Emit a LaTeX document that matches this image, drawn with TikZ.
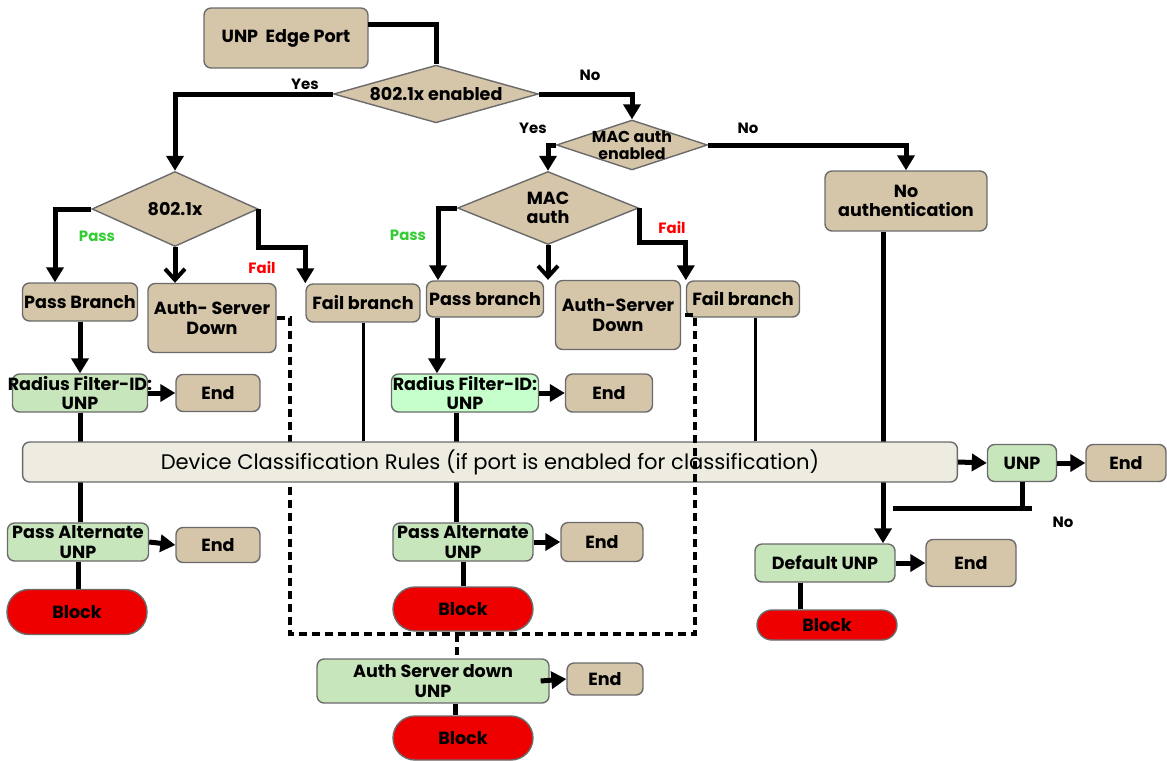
\documentclass[tikz,border=0pt]{standalone}
\usepackage{fontspec}
\setmainfont{Poppins}
\usepackage{xcolor}
\usepackage{tikz}
\usetikzlibrary{positioning, arrows.meta, shapes.geometric, backgrounds}
\definecolor{boxtan}{HTML}{D5C5A9}
\definecolor{boxedge}{HTML}{6B6B6B}
\definecolor{unpgreen}{HTML}{C8E6BC}
\definecolor{unpmint}{HTML}{C6FFCC}
\definecolor{rulebar}{HTML}{EEEBE0}
\definecolor{blockred}{HTML}{EE0000}
\definecolor{passgreen}{HTML}{33CC33}
\definecolor{failred}{HTML}{FF0000}

\tikzset{
  boxfont/.style={font=\fontsize{10}{11}\selectfont\bfseries},
  tanbox/.style={boxfont, fill=boxtan, draw=boxedge, line width=0.8pt, rounded corners=4pt, inner sep=1pt, align=center},
  greenbox/.style={tanbox, fill=unpgreen},
  mintbox/.style={tanbox, fill=unpmint},
  blockbox/.style={boxfont, fill=blockred, draw=boxedge, line width=0.8pt, rounded corners=0.44cm, inner sep=1pt},
  decision/.style={boxfont, diamond, aspect=3, fill=boxtan, draw=boxedge, line width=0.8pt, inner sep=0pt, align=center},
  flow/.style={line width=0.1cm, -{Triangle[length=0.3cm, width=0.34cm]}},
  openflow/.style={line width=0.1cm, -{Straight Barb[length=0.22cm, width=0.4cm, line width=0.08cm]}},
  plainflow/.style={line width=0.1cm},
  thinflow/.style={line width=0.06cm},
  dashflow/.style={line width=0.08cm, dash pattern=on 0.16cm off 0.1cm},
  answer/.style={font=\fontsize{8.5}{9}\selectfont\bfseries, inner sep=0pt}
}

\begin{document}
\begin{tikzpicture}[x=0.02cm, y=-0.02cm]
  \useasboundingbox (0,0) rectangle (1167,761);

  % start and first decisions
  \node[tanbox, minimum width=3.28cm, minimum height=1.2cm] (edge) at (286,38) {UNP\ \ Edge Port};
  \node[decision, minimum width=4.1cm, minimum height=1.04cm] (dotena) at (436,94) {802.1x enabled};
  \node[decision, minimum width=3.02cm, minimum height=1.0cm, font=\fontsize{9}{10}\selectfont\bfseries] (macena) at (632,145) {\makebox[0pt]{MAC auth}\\\makebox[0pt]{enabled}};
  \node[tanbox, minimum width=3.24cm, minimum height=1.2cm] (noauth) at (906,201) {No\\authentication};
  \node[decision, minimum width=3.32cm, minimum height=1.5cm] (dotx) at (175,209) {802.1x};
  \node[decision, minimum width=3.62cm, minimum height=1.46cm] (macauth) at (548,208) {MAC\\auth};

  % branches
  \node[tanbox, minimum width=2.3cm, minimum height=0.76cm] (passL) at (80,302) {Pass Branch};
  \node[tanbox, minimum width=2.56cm, minimum height=1.38cm] (asdL) at (212,318) {Auth- Server\\Down};
  \node[tanbox, minimum width=2.28cm, minimum height=0.76cm] (failL) at (363,303) {Fail branch};
  \node[tanbox, minimum width=2.34cm, minimum height=0.72cm] (passM) at (485,299) {Pass branch};
  \node[tanbox, minimum width=2.5cm, minimum height=1.38cm] (asdM) at (618,315) {Auth-Server\\Down};
  \node[tanbox, minimum width=2.26cm, minimum height=0.72cm] (failM) at (743,299) {Fail branch};

  % radius results
  \node[greenbox, minimum width=2.7cm, minimum height=0.76cm] (radL) at (80,393) {\makebox[0pt]{Radius Filter-ID:}\\UNP};
  \node[tanbox, minimum width=1.68cm, minimum height=0.74cm] (endA) at (218,393) {End};
  \node[mintbox, minimum width=2.94cm, minimum height=0.76cm] (radM) at (465,393) {\makebox[0pt]{Radius Filter-ID:}\\UNP};
  \node[tanbox, minimum width=1.74cm, minimum height=0.76cm] (endB) at (609,393) {End};

  % classification
  \node[tanbox, fill=rulebar, font=\fontsize{12}{14}\selectfont, minimum width=18.7cm, minimum height=0.8cm] (rules) at (490,462) {Device Classification Rules (if port is enabled for classification)};
  \node[greenbox, minimum width=1.38cm, minimum height=0.74cm] (unpR) at (1022,463) {UNP};
  \node[tanbox, minimum width=1.6cm, minimum height=0.74cm] (endR) at (1126,463) {End};

  % alternate, default and blocks
  \node[greenbox, minimum width=2.82cm, minimum height=0.76cm] (altL) at (78,542) {\makebox[0pt]{Pass Alternate}\\UNP};
  \node[tanbox, minimum width=1.68cm, minimum height=0.7cm] (endC) at (218,545) {End};
  \node[blockbox, minimum width=2.8cm, minimum height=0.9cm] (blockL) at (77,612) {Block};
  \node[greenbox, minimum width=2.8cm, minimum height=0.76cm] (altM) at (463,542) {\makebox[0pt]{Pass Alternate}\\UNP};
  \node[tanbox, minimum width=1.64cm, minimum height=0.78cm] (endD) at (602,542) {End};
  \node[blockbox, minimum width=2.8cm, minimum height=0.88cm] (blockM) at (463,609) {Block};
  \node[greenbox, minimum width=2.8cm, minimum height=0.76cm] (defU) at (825,563) {Default UNP};
  \node[tanbox, minimum width=1.8cm, minimum height=0.94cm] (endE) at (971,563) {End};
  \node[blockbox, minimum width=2.8cm, minimum height=0.6cm, rounded corners=0.3cm] (blockR) at (827,625) {Block};
  \node[greenbox, minimum width=4.64cm, minimum height=0.88cm] (asdU) at (433,681) {Auth Server down\\UNP};
  \node[tanbox, minimum width=1.52cm, minimum height=0.64cm] (endF) at (605,679) {End};
  \node[blockbox, minimum width=2.8cm, minimum height=0.88cm] (blockB) at (463,738) {Block};

  % answers
  \node[answer] (yesA) at (305,84) {Yes};
  \node[answer] (noA) at (590,75) {No};
  \node[answer] (yesB) at (533,128) {Yes};
  \node[answer] (noB) at (748,128) {No};
  \node[answer, text=passgreen] (passA) at (97,236) {Pass};
  \node[answer, text=failred] (failA) at (262,268) {Fail};
  \node[answer, text=passgreen] (passB) at (408,235) {Pass};
  \node[answer, text=failred] (failB) at (672,228) {Fail};
  \node[answer] (noC) at (1063,522) {No};

  % helper points
  \coordinate (edgeout) at (368,24);
  \coordinate (passLin) at ([xshift=-0.5cm]passL.north);
  \coordinate (passMin) at ([xshift=-0.94cm]passM.north);
  \coordinate (passMout) at ([xshift=-0.96cm]passM.south);
  \coordinate (radMout) at ([xshift=-0.18cm]radM.south);
  \coordinate (failMout) at ([xshift=0.24cm]failM.south);
  \coordinate (noauthout) at ([xshift=-0.46cm]noauth.south);
  \coordinate (defUout) at ([xshift=-0.5cm]defU.south);
  \coordinate (asdUout) at ([xshift=-0.18cm]asdU.east);
  \coordinate (blockBin) at ([xshift=-0.16cm]blockB.north);
  \coordinate (unpRend) at (1022,508);
  \coordinate (noright) at (1032,508);
  \coordinate (noleft) at (893,508);
  \coordinate (dashL) at (290,634);
  \coordinate (dashM) at (457,634);
  \coordinate (dashR) at (695,634);

  % connectors
  \draw[plainflow] (edgeout) -| (dotena.north);
  \draw[flow] (dotena.west) -| (dotx.north);
  \draw[flow] (dotena.east) -| (macena.north);
  \draw[flow] (macena.west) -| (macauth.north);
  \draw[flow] (macena.east) -| (noauth.north);
  \draw[flow] (dotx.west) -| (passLin);
  \draw[openflow] (dotx.south) -- (dotx.south |- asdL.north);
  \draw[flow] (dotx.east) -- ++(0,38) -| (failL.north west);
  \draw[flow] (macauth.west) -| (passMin);
  \draw[openflow] (macauth.south) -- (macauth.south |- asdM.north);
  \draw[flow] (macauth.east) -- ++(0,34) -| (failM.north west);
  \draw[flow] (passL.south) -- (radL.north);
  \draw[flow] (radL.east) -- (endA.west);
  \draw[flow] (passMout) -- (passMout |- radM.north);
  \draw[flow] (radM.east) -- (endB.west);
  \draw[flow] (rules.east) -- (unpR.west);
  \draw[flow] (unpR.east) -- (endR.west);
  \draw[plainflow] (unpR.south) -- (unpRend);
  \draw[plainflow] (noright) -- (noleft);
  \draw[flow] (altL.east) -- (endC.west);
  \draw[plainflow] (altL.south) -- (altL.south |- blockL.north);
  \draw[flow] (altM.east) -- (endD.west);
  \draw[plainflow] (altM.south) -- (blockM.north);
  \draw[flow] (defU.east) -- (endE.west);
  \draw[plainflow] (defUout) -- (defUout |- blockR.north);
  \draw[flow] (asdUout) -- (endF.west);
  \draw[plainflow] (blockBin |- asdU.south) -- (blockBin);
  \draw[dashflow] (dashM) -- (dashR) |- (asdM.east);
  \draw[dashflow] (dashM) -- (dashM |- asdU.north);

  % lines that run behind the rule bar
  \begin{pgfonlayer}{background}
    \draw[plainflow] (radL.south) -- (radL.south |- altL.north);
    \draw[plainflow] (radMout) -- (radMout |- altM.north);
    \draw[flow] (noauthout) -- (noauthout |- defU.north);
    \draw[thinflow] (failL.south) -- (failL.south |- rules.north);
    \draw[thinflow] (failMout) -- (failMout |- rules.north);
    \draw[dashflow] (asdL.east) -| (dashL) -- (dashM);
  \end{pgfonlayer}
\end{tikzpicture}
\end{document}
